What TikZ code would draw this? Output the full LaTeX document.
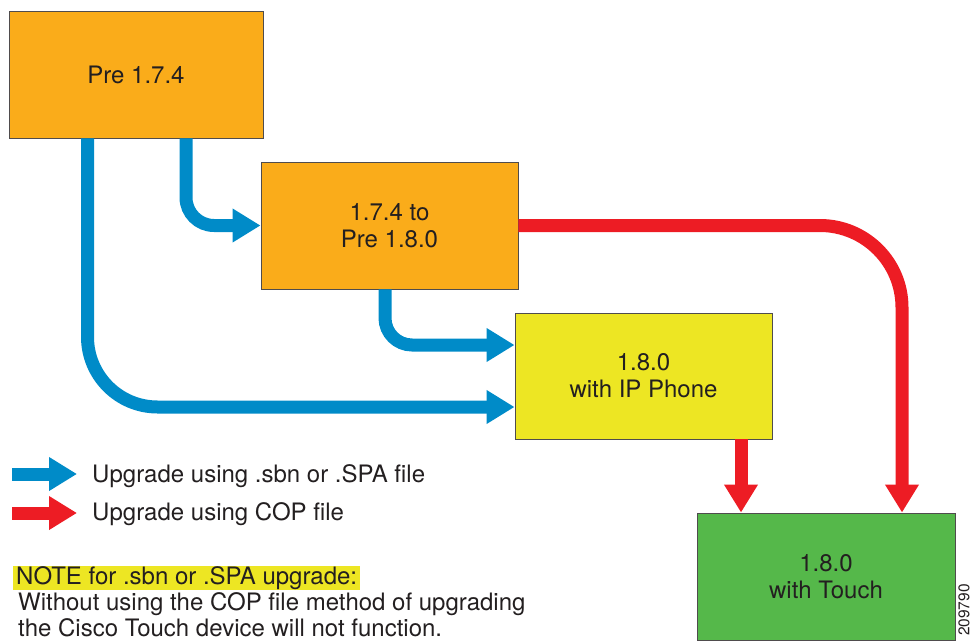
\documentclass[tikz,border=0pt]{standalone}
\usepackage{fontspec}
\setmainfont{TeX Gyre Heros}
\usetikzlibrary{arrows.meta}

\definecolor{boxorange}{RGB}{250,172,26}
\definecolor{boxyellow}{RGB}{237,230,35}
\definecolor{boxgreen}{RGB}{85,184,74}
\definecolor{flowblue}{RGB}{0,139,200}
\definecolor{flowred}{RGB}{237,28,36}
\definecolor{inkgray}{RGB}{35,31,32}

\tikzset{
    box/.style={draw=inkgray!80, line width=0.9pt, inner sep=0pt, align=center,
        text=inkgray, font=\fontsize{24}{27}\selectfont},
    blueflow/.style={line width=13pt, draw=flowblue,
        -{Triangle[length=28pt,width=32pt]}},
    redflow/.style={line width=13pt, draw=flowred,
        -{Triangle[length=28pt,width=32pt]}},
    legendtext/.style={anchor=west, inner sep=0pt, text=inkgray,
        font=\fontsize{24}{26}\selectfont}
}

\begin{document}
\begin{tikzpicture}[x=1pt,y=-1pt]
    % Khung hình
    \useasboundingbox (0,0) rectangle (974,640);

    % Các phiên bản
    \node[box, fill=boxorange, minimum width=254pt, minimum height=127pt] (pre) at (136,74.5) {Pre 1.7.4};
    \node[box, fill=boxorange, minimum width=257pt, minimum height=127pt] (mid) at (389.5,225.5) {1.7.4 to\\Pre 1.8.0};
    \node[box, fill=boxyellow, minimum width=257pt, minimum height=126pt] (ip) at (643.5,376) {1.8.0\\with IP Phone};
    \node[box, fill=boxgreen, minimum width=258pt, minimum height=127pt] (touch) at (826,576.5) {1.8.0\\with Touch};

    % Nâng cấp bằng .sbn / .SPA
    \draw[blueflow, rounded corners=28pt] ([xshift=50pt]pre.south) |- (mid.west);
    \draw[blueflow, rounded corners=70pt] ([xshift=-48.5pt]pre.south) |- ([yshift=-31pt]ip.west);
    \draw[blueflow, rounded corners=27pt] ([xshift=-4.5pt]mid.south) |- ([yshift=31pt]ip.west);

    % Nâng cấp bằng COP
    \draw[redflow, rounded corners=82pt] (mid.east) -| ([xshift=76pt]touch.north);
    \coordinate (ipout) at ([xshift=97.5pt]ip.south);
    \draw[redflow] (ipout) -- (ipout |- touch.north);

    % Chú thích
    \node[legendtext] (lgblue) at (92,476) {Upgrade using .sbn or .SPA file};
    \node[legendtext] (lgred) at (92,514) {Upgrade using COP file};
    \draw[blueflow] ([xshift=-80pt,yshift=2pt]lgblue.west) -- ([xshift=-15pt,yshift=2pt]lgblue.west);
    \draw[redflow] ([xshift=-80pt,yshift=1pt]lgred.west) -- ([xshift=-15pt,yshift=1pt]lgred.west);

    % Ghi chú
    \node[legendtext, fill=boxyellow, inner xsep=3pt, text height=18pt, text depth=6pt] (note) at (13,578) {NOTE for .sbn or .SPA upgrade:};
    \node[legendtext, anchor=north west, align=left, inner xsep=5pt, inner ysep=2pt] (notebody) at (note.south west)
        {Without using the COP file method of upgrading\\the Cisco Touch device will not function.};

    % Mã hình
    \node[rotate=90, inner sep=0pt, text=inkgray, font=\fontsize{15.5}{18}\selectfont] (figid) at (964,610) {209790};
\end{tikzpicture}
\end{document}
